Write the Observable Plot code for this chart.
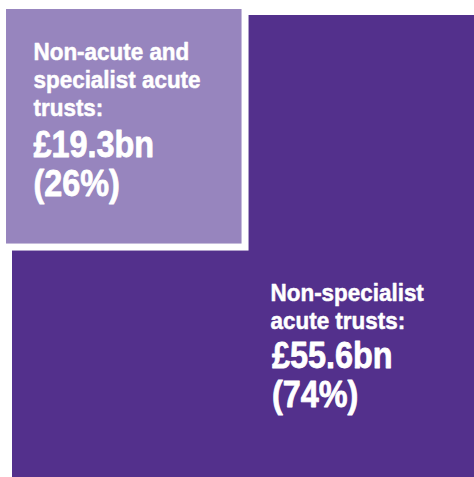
<!DOCTYPE html>
<html><head><meta charset="utf-8">
<script src="https://cdn.jsdelivr.net/npm/d3@7"></script>
<script src="https://cdn.jsdelivr.net/npm/@observablehq/plot@0.6"></script>
<style>body{margin:0;background:#fff;overflow:hidden}</style>
</head><body><div id="chart"></div>
<script>
// Data
const categories = ["Non-acute and specialist acute trusts", "Non-specialist acute trusts"];
const labels = ["Non-acute and\nspecialist acute\ntrusts:", "Non-specialist\nacute trusts:"];
const values = [19.3, 55.6];   // £bn
const shares = [26, 74];       // %

const total = d3.sum(values);
const side = Math.sqrt(total);          // whole square: total spend
const partSide = Math.sqrt(values[0]);  // inset square: non-acute & specialist
const nudge = 0.112;                    // inset square sits slightly up-left

const whole = [{x1: 0, x2: side, y1: 0, y2: side}];
const part = [{x1: -nudge, x2: -nudge + partSide, y1: -nudge, y2: -nudge + partSide}];

const valueText = (i) => `£${values[i]}bn\n(${shares[i]}%)`;
const font = "'Liberation Sans','Arial',sans-serif";
const SMALL = 24, LARGE = 37;

const chart = Plot.plot({
  width: 474,
  height: 477,
  marginLeft: 12, marginTop: 15, marginRight: 0, marginBottom: 0,
  x: {domain: [0, side], axis: null},
  y: {domain: [0, side], reverse: true, axis: null},
  style: {fontFamily: font, background: "#fff"},
  marks: [
    Plot.rect(whole, {x1: "x1", x2: "x2", y1: "y1", y2: "y2", fill: "#53308c"}),
    Plot.rect(part, {x1: "x1", x2: "x2", y1: "y1", y2: "y2", fill: "#fff",
      insetTop: -7, insetLeft: -7, insetRight: -8, insetBottom: -7}),
    Plot.rect(part, {x1: "x1", x2: "x2", y1: "y1", y2: "y2", fill: "#9785be", insetRight: -1}),
    // inset square labels
    Plot.text(part, {x: "x1", y: "y1", text: () => labels[0], dx: 27, dy: 31,
      textAnchor: "start", lineAnchor: "top", fontSize: SMALL, fontWeight: "bold",
      lineHeight: 1.167, fill: "#fff", stroke: "#fff", strokeWidth: 0.5}),
    Plot.text(part, {x: "x1", y: "y1", text: () => valueText(0), dx: 27, dy: 120,
      textAnchor: "start", lineAnchor: "top", fontSize: LARGE, fontWeight: "bold",
      lineHeight: 1.05, fill: "#fff", stroke: "#fff", strokeWidth: 0.8}),
    // remaining area labels
    Plot.text(part, {x: "x2", y: "y2", text: () => labels[1], dx: 29.5, dy: 37.5,
      textAnchor: "start", lineAnchor: "top", fontSize: SMALL, fontWeight: "bold",
      lineHeight: 1.167, fill: "#fff", stroke: "#fff", strokeWidth: 0.5}),
    Plot.text(part, {x: "x2", y: "y2", text: () => valueText(1), dx: 31, dy: 96.5,
      textAnchor: "start", lineAnchor: "top", fontSize: LARGE, fontWeight: "bold",
      lineHeight: 1.05, fill: "#fff", stroke: "#fff", strokeWidth: 0.8})
  ]
});

// condense the type horizontally to mimic a condensed face
d3.select(chart).selectAll("g[aria-label=text]").each(function() {
  const g = d3.select(this);
  const fs = +g.attr("font-size");
  const s = fs >= 30 ? 0.875 : 0.935;
  g.selectAll("text").each(function() {
    const t = d3.select(this);
    const tr = t.attr("transform");
    if (tr) t.attr("transform", `${tr} scale(${s},1)`);
    else {
      const x = +t.attr("x") || 0;
      t.attr("transform", `translate(${x},0) scale(${s},1) translate(${-x},0)`);
    }
  });
});
document.getElementById("chart").append(chart);
</script>
</body></html>
